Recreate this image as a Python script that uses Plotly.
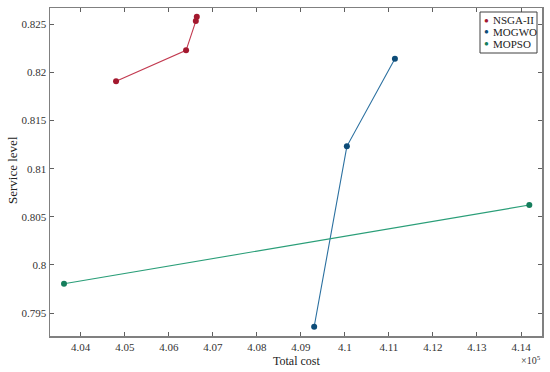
import plotly.graph_objects as go

nsga_cost = [404802, 406393, 406614, 406636]
nsga_sl = [0.81908, 0.8223, 0.82534, 0.82579]
mogwo_cost = [409302, 410045, 411136]
mogwo_sl = [0.79357, 0.81232, 0.82142]
mopso_cost = [403620, 414189]
mopso_sl = [0.79804, 0.80622]

x_ticks = [404000 + 1000 * i for i in range(11)]
x_labels = ["4.04", "4.05", "4.06", "4.07", "4.08", "4.09", "4.1", "4.11", "4.12", "4.13", "4.14"]
y_ticks = [0.795, 0.8, 0.805, 0.81, 0.815, 0.82, 0.825]
y_labels = ["0.795", "0.8", "0.805", "0.81", "0.815", "0.82", "0.825"]

series = [
    ("NSGA-II", nsga_cost, nsga_sl, "#A3182E", "#C2394F"),
    ("MOGWO", mogwo_cost, mogwo_sl, "#0D4C78", "#2B70A0"),
    ("MOPSO", mopso_cost, mopso_sl, "#157E5C", "#2A9E78"),
]

W, H = 550, 372
ML, MR, MT, MB = 50, 8, 8, 36
PW, PH = W - ML - MR, H - MT - MB

def px(x):
    return (x - ML) / PW

def py(y):
    return 1 - (y - MT) / PH

fig = go.Figure()
for name, xs, ys, mc, lc in series:
    fig.add_trace(go.Scatter(
        x=xs, y=ys, name=name, mode="lines+markers", showlegend=False,
        line=dict(color=lc, width=1.1),
        marker=dict(color=mc, size=6, line=dict(width=0)),
        hoverinfo="skip",
    ))

font = "Liberation Serif"
axis_common = dict(
    showline=True, linecolor="#808080", linewidth=1.5, mirror="ticks",
    ticks="inside", ticklen=4, tickcolor="#606060", tickwidth=1,
    showgrid=False, zeroline=False,
    tickfont=dict(family=font, size=11, color="#333333"),
)
fig.update_layout(
    width=W, height=H,
    margin=dict(l=ML, r=MR, t=MT, b=MB, autoexpand=False),
    paper_bgcolor="white", plot_bgcolor="white",
    font=dict(family=font, color="#222222"),
    xaxis=dict(range=[403302, 414477], tickvals=x_ticks, ticktext=x_labels,
               automargin=False, **axis_common),
    yaxis=dict(range=[0.79261, 0.8267], tickvals=y_ticks, ticktext=y_labels,
               automargin=False, **axis_common),
    showlegend=False,
)

# axis titles
fig.add_annotation(text="Total cost", xref="paper", yref="paper", x=px(296), y=py(361),
                   xanchor="center", yanchor="middle", showarrow=False,
                   font=dict(family=font, size=12, color="#222222"))
fig.add_annotation(text="Service level", xref="paper", yref="paper", x=px(12), y=py(170),
                   xanchor="center", yanchor="middle", showarrow=False, textangle=-90,
                   font=dict(family=font, size=13, color="#222222"))
fig.add_annotation(text="×10<sup>5</sup>", xref="paper", yref="paper", x=px(543), y=py(360),
                   xanchor="right", yanchor="middle", showarrow=False,
                   font=dict(family=font, size=10, color="#333333"))

# legend box
fig.add_shape(type="rect", xref="paper", yref="paper",
              x0=px(480), x1=px(537), y0=py(53), y1=py(12),
              line=dict(color="#404040", width=1), fillcolor="white", layer="above")
leg_y = [20, 32, 43.5]
for (name, xs, ys, mc, lc), yy in zip(series, leg_y):
    fig.add_annotation(text="●", xref="paper", yref="paper", x=px(486), y=py(yy),
                       xanchor="center", yanchor="middle", showarrow=False,
                       font=dict(family=font, size=8, color=mc))
    fig.add_annotation(text=name, xref="paper", yref="paper", x=px(491), y=py(yy),
                       xanchor="left", yanchor="middle", showarrow=False,
                       font=dict(family=font, size=11, color="#222222"))

fig.write_html("out.html", config={"displayModeBar": False, "staticPlot": True},
               post_script="document.body.style.margin='0';")
